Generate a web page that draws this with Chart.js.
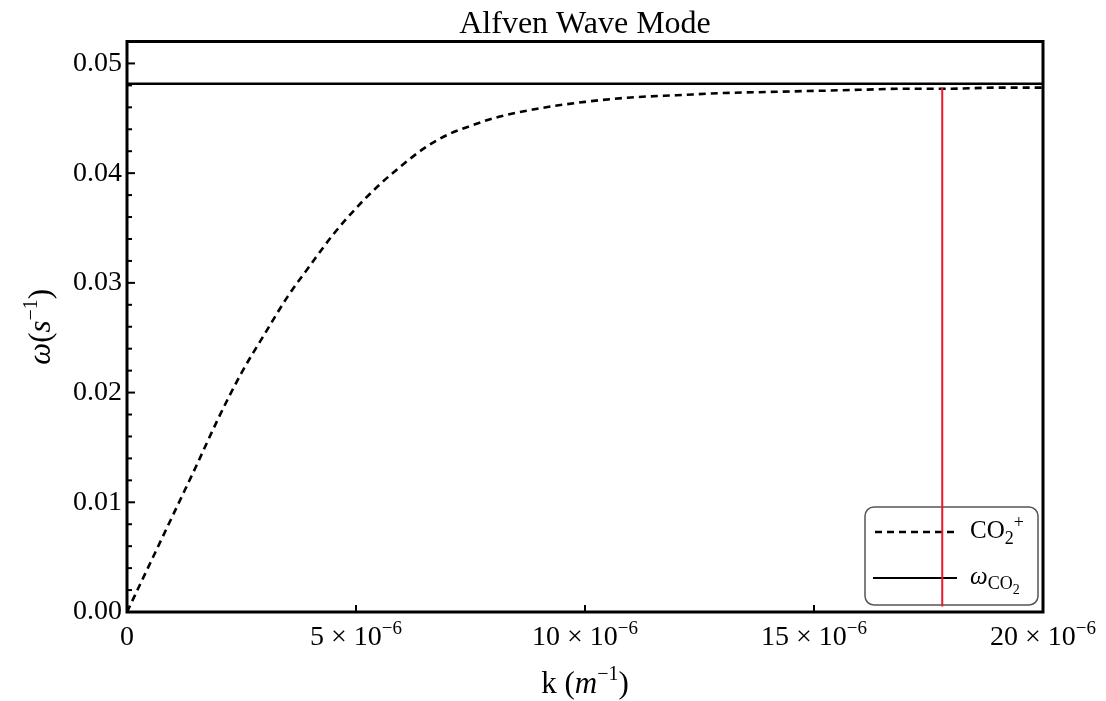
<!DOCTYPE html>
<html>
<head>
<meta charset="utf-8">
<title>Alfven Wave Mode</title>
<script src="https://cdn.jsdelivr.net/npm/chart.js@4.4.1/dist/chart.umd.min.js"></script>
<style>
  html, body { margin: 0; padding: 0; background: #fff; }
  #wrap { width: 1106px; height: 701px; }
</style>
</head>
<body>
<div id="wrap"><canvas id="chart" width="1106" height="701"></canvas></div>
<script>
const kValues = [0, 0.5e-6, 1e-6, 1.5e-6, 2e-6, 2.5e-6, 3e-6, 3.5e-6, 4e-6, 4.5e-6,
  5e-6, 5.5e-6, 6e-6, 6.5e-6, 7e-6, 7.5e-6, 8e-6, 9e-6, 10e-6, 11e-6,
  12e-6, 13e-6, 14e-6, 15e-6, 16e-6, 17e-6, 18e-6, 19e-6, 20e-6];
const omegaValues = [0, 0.0044, 0.0088, 0.0132, 0.0177, 0.0218, 0.0253, 0.0287, 0.0316, 0.0344,
  0.0368, 0.0389, 0.0407, 0.0423, 0.0435, 0.0443, 0.0450, 0.0459, 0.0465, 0.0469,
  0.0471, 0.0473, 0.0474, 0.0475, 0.0476, 0.0477, 0.0477, 0.0478, 0.0478];

// cyclotron frequency (solid line)
const omegaC = 0.04815;
const omegaCRange = [0, 20e-6];

// red vertical marker
const markerK = 17.8e-6;
const markerOmega = [0.0005, 0.0478];

// axes
const xTickMantissa = ['0', '5', '10', '15', '20'];
const xTickExponent = '−6';
const xMax = 20e-6, xStep = 5e-6;
const yMax = 0.052, yStep = 0.002, yMajor = 0.01;

const SERIF = '"Liberation Serif", "Times New Roman", serif';

function isMajorY(v) {
  const r = v / yMajor;
  return Math.abs(r - Math.round(r)) < 1e-6;
}

// draw a row of text pieces (for sub/superscripts, italics)
function drawRuns(ctx, x, y, runs, align) {
  let total = 0;
  runs.forEach(r => {
    ctx.font = (r.italic ? 'italic ' : '') + r.size + 'px ' + SERIF;
    r.w = ctx.measureText(r.t).width;
    total += r.w;
  });
  let cx = align === 'center' ? x - total / 2 : x;
  ctx.textBaseline = 'alphabetic';
  ctx.textAlign = 'left';
  runs.forEach(r => {
    ctx.font = (r.italic ? 'italic ' : '') + r.size + 'px ' + SERIF;
    ctx.fillText(r.t, cx, y + (r.dy || 0));
    cx += r.w;
  });
}

const decorPlugin = {
  id: 'decor',
  beforeDatasetsDraw(chart) {
    const ctx = chart.ctx;
    ctx.save();
    // legend box
    const bx = 865, by = 507, bw = 173, bh = 98, rad = 9;
    ctx.beginPath();
    ctx.roundRect(bx, by, bw, bh, rad);
    ctx.fillStyle = '#fff';
    ctx.fill();
    ctx.lineWidth = 1.5;
    ctx.strokeStyle = '#555';
    ctx.stroke();

    ctx.strokeStyle = '#000';
    ctx.lineWidth = 2.6;
    ctx.setLineDash([7, 5]);
    ctx.beginPath();
    ctx.moveTo(875, 532);
    ctx.lineTo(956, 532);
    ctx.stroke();
    ctx.setLineDash([]);
    ctx.lineWidth = 2;
    ctx.beginPath();
    ctx.moveTo(873, 578);
    ctx.lineTo(957, 578);
    ctx.stroke();

    ctx.fillStyle = '#000';
    drawRuns(ctx, 970, 538, [
      { t: 'CO', size: 25 },
      { t: '2', size: 18, dy: 6 },
      { t: '+', size: 18, dy: -10 }
    ], 'left');
    drawRuns(ctx, 970, 584, [
      { t: 'ω', size: 25, italic: true },
      { t: 'CO', size: 18, dy: 5 },
      { t: '2', size: 14, dy: 10 }
    ], 'left');
    ctx.restore();
  },
  afterDraw(chart) {
    const ctx = chart.ctx;
    const a = chart.chartArea;
    const xs = chart.scales.x, ys = chart.scales.y;
    ctx.save();
    ctx.strokeStyle = '#000';
    ctx.fillStyle = '#000';

    // title, centred over the plot area
    drawRuns(ctx, (a.left + a.right) / 2, 33, [
      { t: 'Alfven Wave Mode', size: 32 }
    ], 'center');

    // inner tick marks
    ctx.lineWidth = 2;
    ys.ticks.forEach(t => {
      const py = ys.getPixelForValue(t.value);
      const len = isMajorY(t.value) ? 8 : 5;
      ctx.beginPath();
      ctx.moveTo(a.left, py);
      ctx.lineTo(a.left + len, py);
      ctx.stroke();
    });
    xs.ticks.forEach((t, i) => {
      const px = xs.getPixelForValue(t.value);
      ctx.beginPath();
      ctx.moveTo(px, a.bottom);
      ctx.lineTo(px, a.bottom - 7);
      ctx.stroke();
      // x tick labels with a real superscript exponent
      const runs = i === 0
        ? [{ t: xTickMantissa[i], size: 28 }]
        : [{ t: xTickMantissa[i] + ' × 10', size: 28 }, { t: xTickExponent, size: 19, dy: -11 }];
      drawRuns(ctx, px, 645, runs, 'center');
    });

    // frame
    ctx.lineWidth = 3;
    ctx.strokeRect(a.left, a.top, a.right - a.left, a.bottom - a.top);

    // axis titles
    drawRuns(ctx, (a.left + a.right) / 2, 693, [
      { t: 'k (', size: 31 },
      { t: 'm', size: 31, italic: true },
      { t: '−1', size: 20, dy: -13 },
      { t: ')', size: 31 }
    ], 'center');

    ctx.translate(50, (a.top + a.bottom) / 2);
    ctx.rotate(-Math.PI / 2);
    drawRuns(ctx, 0, 0, [
      { t: 'ω', size: 31, italic: true },
      { t: '(', size: 31 },
      { t: 's', size: 31, italic: true },
      { t: '−1', size: 20, dy: -13 },
      { t: ')', size: 31 }
    ], 'center');
    ctx.restore();
  }
};

const curveData = kValues.map((k, i) => ({ x: k, y: omegaValues[i] }));
const omegaCData = omegaCRange.map(k => ({ x: k, y: omegaC }));
const markerData = markerOmega.map(w => ({ x: markerK, y: w }));

new Chart(document.getElementById('chart'), {
  type: 'line',
  data: {
    datasets: [
      {
        label: 'marker',
        data: markerData,
        borderColor: '#e8192c',
        borderWidth: 2,
        pointRadius: 0
      },
      {
        label: 'ωCO2',
        data: omegaCData,
        borderColor: '#000',
        borderWidth: 2.5,
        pointRadius: 0
      },
      {
        label: 'CO2+',
        data: curveData,
        borderColor: '#000',
        borderWidth: 2.6,
        borderDash: [7, 5],
        pointRadius: 0,
        cubicInterpolationMode: 'monotone'
      }
    ]
  },
  options: {
    responsive: false,
    animation: false,
    layout: { padding: { left: 0, right: 63, top: 41.5, bottom: 0 } },
    plugins: {
      legend: { display: false },
      tooltip: { enabled: false },
      title: { display: false }
    },
    scales: {
      x: {
        type: 'linear',
        min: 0,
        max: xMax,
        grid: { display: false, drawTicks: false },
        border: { display: false },
        afterFit(scale) { scale.height = 89; },
        ticks: {
          stepSize: xStep,
          autoSkip: false,
          maxRotation: 0,
          padding: 10,
          color: 'rgba(0,0,0,0)',
          font: { family: SERIF, size: 28 },
          callback: (v, i) => xTickMantissa[i]
        }
      },
      y: {
        min: 0,
        max: yMax,
        grid: { display: false, drawTicks: false },
        border: { display: false },
        afterFit(scale) { scale.width = 127; },
        ticks: {
          stepSize: yStep,
          autoSkip: false,
          padding: 5,
          color: '#000',
          font: { family: SERIF, size: 28 },
          callback: v => isMajorY(v) ? v.toFixed(2) : ''
        }
      }
    }
  },
  plugins: [decorPlugin]
});
</script>
</body>
</html>
